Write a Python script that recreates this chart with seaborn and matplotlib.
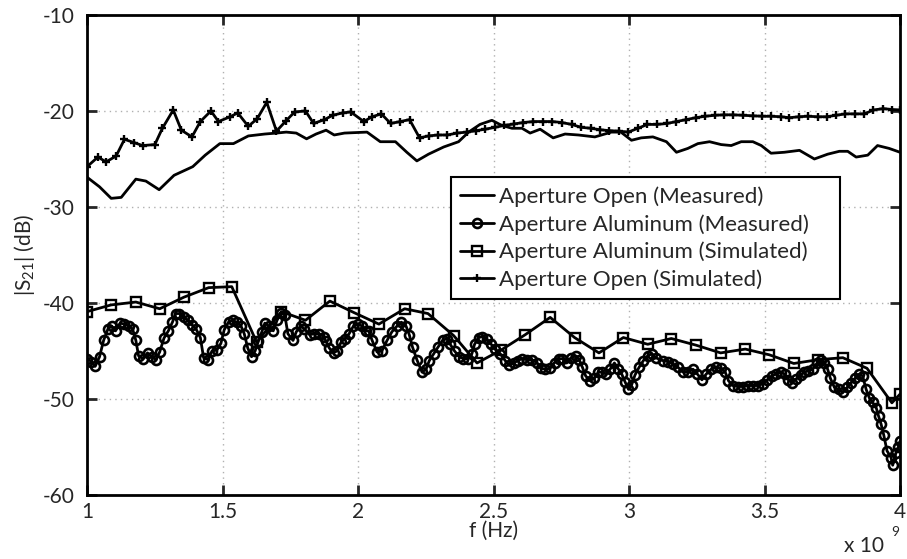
import matplotlib
matplotlib.use('Agg')
import matplotlib.pyplot as plt
import seaborn as sns

# Aperture Open (Measured)
f_open_meas = [1.0, 1.046, 1.089, 1.126, 1.18, 1.217, 1.266, 1.321, 1.39, 1.436, 1.49, 1.54,
               1.595, 1.656, 1.699, 1.735, 1.772, 1.81, 1.845, 1.882, 1.912, 1.95, 2.033, 2.082,
               2.138, 2.18, 2.217, 2.26, 2.316, 2.371, 2.408, 2.45, 2.494, 2.53, 2.568, 2.605,
               2.635, 2.672, 2.72, 2.764, 2.813, 2.874, 2.935, 2.97, 3.009, 3.045, 3.088, 3.138,
               3.175, 3.217, 3.254, 3.297, 3.34, 3.377, 3.414, 3.457, 3.488, 3.524, 3.573, 3.629,
               3.684, 3.733, 3.776, 3.807, 3.838, 3.881, 3.917, 3.96, 4.0]
s_open_meas = [-26.9, -27.9, -29.1, -29.0, -27.1, -27.3, -28.2, -26.7, -25.8, -24.6, -23.4, -23.4,
               -22.6, -22.4, -22.3, -22.2, -22.3, -22.9, -22.4, -22.0, -22.5, -22.3, -22.2, -23.2,
               -23.2, -24.3, -25.2, -24.5, -23.75, -23.2, -22.2, -21.4, -20.97, -21.5, -21.8, -21.8,
               -22.3, -21.9, -22.8, -22.4, -22.5, -22.7, -22.2, -22.2, -23.05, -22.8, -22.7, -23.2,
               -24.3, -23.9, -23.4, -23.2, -23.5, -23.6, -23.2, -23.2, -23.6, -24.4, -24.3, -24.1,
               -25.0, -24.5, -24.2, -24.2, -24.8, -24.6, -23.6, -23.9, -24.3]

# Aperture Aluminum (Measured)
f_alu_meas = [1.0, 1.016, 1.03, 1.046, 1.061, 1.077, 1.091, 1.105, 1.122, 1.138, 1.154, 1.168,
              1.18, 1.19, 1.207, 1.223, 1.239, 1.254, 1.268, 1.284, 1.3, 1.315, 1.327, 1.341,
              1.357, 1.373, 1.388, 1.402, 1.418, 1.43, 1.446, 1.461, 1.479, 1.494, 1.506, 1.522,
              1.537, 1.552, 1.568, 1.58, 1.593, 1.607, 1.62, 1.632, 1.645, 1.656, 1.671, 1.687,
              1.701, 1.717, 1.73, 1.741, 1.76, 1.772, 1.788, 1.802, 1.821, 1.839, 1.857, 1.873,
              1.882, 1.894, 1.91, 1.924, 1.937, 1.952, 1.967, 1.983, 1.998, 2.016, 2.028, 2.039,
              2.052, 2.07, 2.088, 2.107, 2.125, 2.144, 2.16, 2.177, 2.189, 2.201, 2.217, 2.236,
              2.251, 2.263, 2.279, 2.295, 2.312, 2.328, 2.34, 2.356, 2.373, 2.389, 2.405, 2.42,
              2.43, 2.445, 2.459, 2.475, 2.491, 2.506, 2.525, 2.543, 2.558, 2.574, 2.59, 2.604,
              2.623, 2.641, 2.66, 2.676, 2.69, 2.709, 2.725, 2.74, 2.754, 2.77, 2.786, 2.803,
              2.816, 2.828, 2.84, 2.856, 2.872, 2.887, 2.902, 2.914, 2.93, 2.946, 2.961, 2.973,
              2.985, 2.998, 3.01, 3.022, 3.037, 3.053, 3.069, 3.084, 3.098, 3.125, 3.144, 3.162,
              3.181, 3.199, 3.217, 3.236, 3.252, 3.269, 3.285, 3.303, 3.322, 3.34, 3.355, 3.367,
              3.383, 3.402, 3.42, 3.439, 3.457, 3.475, 3.494, 3.51, 3.527, 3.543, 3.559, 3.574,
              3.588, 3.6, 3.617, 3.633, 3.647, 3.662, 3.678, 3.694, 3.709, 3.721, 3.733, 3.743,
              3.758, 3.773, 3.789, 3.805, 3.819, 3.834, 3.85, 3.862, 3.875, 3.887, 3.899, 3.912,
              3.921, 3.93, 3.94, 3.952, 3.967, 3.973, 3.985, 3.994, 4.0]
s_alu_meas = [-45.8, -46.1, -46.6, -45.6, -43.9, -42.7, -42.4, -42.9, -42.1, -42.2, -42.4, -42.7,
              -43.9, -45.5, -45.8, -45.2, -45.6, -45.9, -45.1, -43.65, -42.9, -42.0, -41.1, -41.1,
              -41.5, -41.8, -42.3, -42.7, -43.6, -45.7, -45.9, -45.0, -44.9, -44.2, -42.8, -42.0,
              -41.8, -42.0, -42.4, -43.2, -44.7, -45.6, -45.0, -44.0, -43.0, -42.1, -42.4, -42.9,
              -41.8, -41.0, -41.3, -43.2, -43.9, -43.0, -42.4, -42.7, -43.3, -43.2, -43.2, -43.5,
              -44.0, -44.7, -45.2, -44.95, -44.1, -43.7, -43.2, -42.4, -42.2, -42.4, -42.9, -42.9,
              -43.9, -45.1, -45.0, -43.9, -43.0, -42.4, -42.0, -42.4, -43.3, -44.6, -45.9, -47.2,
              -46.9, -46.0, -45.3, -44.6, -43.9, -43.7, -44.3, -45.0, -45.6, -45.8, -45.8, -45.3,
              -44.3, -43.6, -43.5, -43.75, -44.3, -44.8, -45.3, -46.0, -46.5, -46.25, -46.0, -45.8,
              -45.9, -45.9, -46.2, -46.8, -46.9, -46.8, -46.2, -45.8, -45.8, -46.25, -45.7, -45.5,
              -45.9, -46.7, -47.6, -48.1, -47.85, -47.2, -47.2, -47.4, -46.9, -46.25, -46.9, -47.4,
              -48.2, -49.0, -48.5, -47.5, -46.7, -46.0, -45.5, -45.3, -45.7, -46.0, -46.1, -46.35,
              -46.7, -47.2, -47.2, -46.9, -47.4, -48.0, -47.4, -46.9, -46.7, -46.8, -47.2, -48.1,
              -48.6, -48.7, -48.7, -48.6, -48.6, -48.6, -48.4, -48.0, -47.6, -47.4, -47.2, -47.4,
              -48.0, -48.3, -47.9, -47.5, -47.2, -47.05, -46.9, -46.25, -45.9, -46.2, -46.9, -47.85,
              -48.8, -49.0, -49.3, -48.8, -48.3, -47.85, -47.4, -47.6, -49.0, -49.9, -50.35, -50.9,
              -51.8, -52.6, -53.75, -55.4, -56.1, -56.9, -55.6, -55.0, -54.4]

# Aperture Aluminum (Simulated)
f_alu_sim = [1.0, 1.089, 1.18, 1.268, 1.357, 1.449, 1.534, 1.626, 1.717, 1.806, 1.896, 1.985,
             2.077, 2.172, 2.258, 2.353, 2.439, 2.528, 2.617, 2.709, 2.799, 2.889, 2.979, 3.069,
             3.156, 3.248, 3.338, 3.429, 3.518, 3.608, 3.699, 3.789, 3.878, 3.97, 4.0]
s_alu_sim = [-40.9, -40.2, -39.9, -40.6, -39.4, -38.4, -38.3, -44.1, -40.9, -41.8, -39.8, -41.0,
             -42.2, -40.6, -41.1, -43.4, -46.25, -44.9, -43.3, -41.5, -43.6, -45.2, -43.6, -44.3,
             -43.7, -44.4, -45.2, -44.8, -45.4, -46.3, -45.9, -45.7, -46.8, -50.4, -49.5]

# Aperture Open (Simulated)
f_open_sim = [1.0, 1.04, 1.07, 1.107, 1.138, 1.174, 1.205, 1.25, 1.278, 1.318, 1.348, 1.387,
              1.418, 1.457, 1.485, 1.528, 1.556, 1.595, 1.628, 1.663, 1.699, 1.735, 1.766, 1.806,
              1.836, 1.876, 1.906, 1.943, 1.973, 2.021, 2.052, 2.086, 2.12, 2.156, 2.19, 2.227,
              2.26, 2.295, 2.33, 2.365, 2.401, 2.436, 2.469, 2.506, 2.54, 2.576, 2.61, 2.647,
              2.682, 2.717, 2.752, 2.788, 2.823, 2.858, 2.893, 2.927, 2.963, 2.997, 3.033, 3.068,
              3.104, 3.141, 3.175, 3.211, 3.246, 3.281, 3.316, 3.35, 3.385, 3.42, 3.457, 3.491,
              3.524, 3.561, 3.592, 3.626, 3.66, 3.696, 3.729, 3.764, 3.798, 3.834, 3.868, 3.902,
              3.938, 3.972, 4.0]
s_open_sim = [-25.8, -24.8, -25.3, -24.7, -22.95, -23.3, -23.6, -23.5, -21.8, -19.9, -22.0, -22.7,
              -21.1, -20.0, -21.1, -20.6, -20.2, -21.6, -20.8, -19.1, -22.1, -21.0, -20.1, -20.0,
              -21.3, -20.9, -20.45, -20.2, -20.1, -21.1, -20.6, -20.3, -21.3, -21.1, -20.9, -22.8,
              -22.6, -22.5, -22.5, -22.3, -22.2, -22.05, -21.9, -21.7, -21.5, -21.35, -21.2, -21.1,
              -21.1, -21.1, -21.2, -21.4, -21.7, -21.8, -21.95, -22.05, -22.1, -22.2, -21.8, -21.4,
              -21.4, -21.3, -21.1, -20.9, -20.7, -20.55, -20.45, -20.4, -20.4, -20.45, -20.5, -20.55,
              -20.55, -20.6, -20.7, -20.6, -20.55, -20.6, -20.6, -20.45, -20.3, -20.3, -20.3, -19.9,
              -19.75, -19.85, -19.9]

sns.set_style('white')
plt.rcParams['font.family'] = ['Lato', 'DejaVu Sans']
plt.rcParams['mathtext.fontset'] = 'custom'
plt.rcParams['mathtext.rm'] = 'Lato'
plt.rcParams['mathtext.it'] = 'Lato'
plt.rcParams['axes.unicode_minus'] = False

fig = plt.figure(figsize=(9.07, 5.59), dpi=100)
ax = fig.add_axes([0.096, 0.1145, 0.8963, 0.8587])

common = dict(ax=ax, color='black', lw=2, sort=False, estimator=None)
sns.lineplot(x=f_open_meas, y=s_open_meas, label='Aperture Open (Measured)', **common)
sns.lineplot(x=f_alu_meas, y=s_alu_meas, label='Aperture Aluminum (Measured)',
             marker='o', markersize=6.5, markerfacecolor='none', markeredgecolor='black',
             markeredgewidth=1.9, **common)
sns.lineplot(x=f_alu_sim, y=s_alu_sim, label='Aperture Aluminum (Simulated)',
             marker='s', markersize=7, markerfacecolor='none', markeredgecolor='black',
             markeredgewidth=1.7, **common)
sns.lineplot(x=f_open_sim, y=s_open_sim, label='Aperture Open (Simulated)',
             marker='+', markersize=6, markeredgecolor='black', markeredgewidth=1.7, **common)

ax.set_xlim(1, 4)
ax.set_ylim(-60, -10)
ax.set_xticks([1, 1.5, 2, 2.5, 3, 3.5, 4])
ax.set_xticklabels(['1', '1.5', '2', '2.5', '3', '3.5', '4'])
ax.set_yticks([-60, -50, -40, -30, -20, -10])
ax.grid(True, color='#b0b0b0', linestyle=(0, (1, 3)), lw=1)
ax.tick_params(direction='in', length=7, width=2, labelsize=15, top=True, right=True,
               bottom=True, left=True)
ax.tick_params(axis='y', pad=9)
ax.tick_params(axis='x', pad=5)
for sp in ax.spines.values():
    sp.set_visible(True)
    sp.set_color('black')
    sp.set_linewidth(2)

ax.set_xlabel('f (Hz)', fontsize=15, labelpad=-1)
ax.set_ylabel(r'|S$_{21}$| (dB)', fontsize=15, labelpad=4)
fig.text(0.930, 0.006, 'x 10', fontsize=15, ha='left', va='bottom')
fig.text(0.983, 0.038, '9', fontsize=10, ha='left', va='bottom')

# MATLAB-style legend: extra room on the right side of the box
handles, labels = ax.get_legend_handles_labels()
labels[2] = labels[2] + '    '
leg = ax.legend(handles, labels, loc='upper left', bbox_to_anchor=(0.4475, 0.6625),
                fontsize=16, frameon=True, fancybox=False, framealpha=1, edgecolor='black',
                handlelength=1.5, handletextpad=0.25, labelspacing=0.32, borderpad=0.42,
                borderaxespad=0)
leg.get_frame().set_linewidth(1.5)

fig.savefig('out.png', dpi=100)
